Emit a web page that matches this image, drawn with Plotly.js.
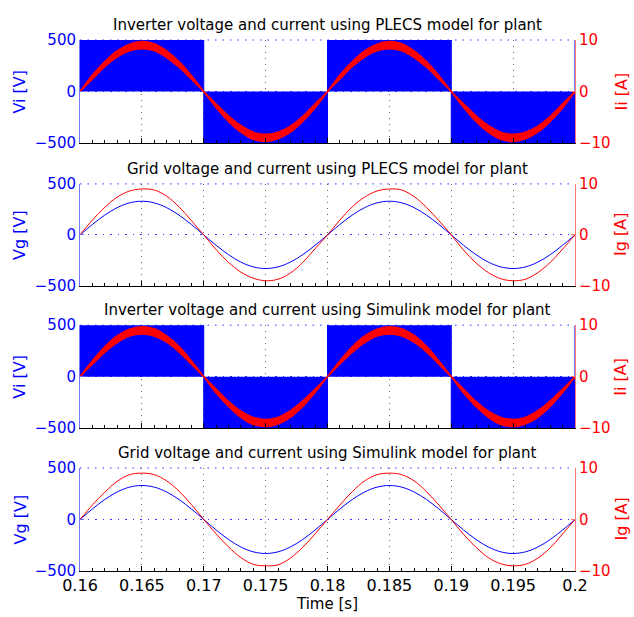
<!DOCTYPE html>
<html>
<head>
<meta charset="utf-8">
<script src="https://cdn.plot.ly/plotly-3.0.1.min.js"></script>
<style>html,body{margin:0;padding:0;background:#fff;}#chart{width:634px;height:617px;}</style>
</head>
<body>
<div id="chart"></div>
<script>
// ---- data ----
const time = [0.160,0.161,0.162,0.163,0.164,0.165,0.166,0.167,0.168,0.169,
              0.170,0.171,0.172,0.173,0.174,0.175,0.176,0.177,0.178,0.179,
              0.180,0.181,0.182,0.183,0.184,0.185,0.186,0.187,0.188,0.189,
              0.190,0.191,0.192,0.193,0.194,0.195,0.196,0.197,0.198,0.199,0.200];

// inverter voltage envelope (PWM switching appears as solid blocks)
const viTime = [0.16,0.17,0.17,0.18,0.18,0.19,0.19,0.20,0.20];
const viPlecs = [500,500,-500,-500,500,500,-500,-500,500];
const viSimulink = [500,500,-500,-500,500,500,-500,-500,500];

// inverter current ripple band (outer / inner edge)
const iiPlecsOuter = [0,3.2,5.8,7.9,9.2,9.7,9.3,7.9,5.8,3.1,0,-3.1,-5.8,-7.9,-9.3,-9.7,-9.2,-7.9,-5.8,-3.2,
                      0,3.2,5.8,7.9,9.2,9.7,9.3,7.9,5.8,3.1,0,-3.1,-5.8,-7.9,-9.3,-9.7,-9.2,-7.9,-5.8,-3.2,0];
const iiPlecsInner = [0,2.4,4.8,6.7,7.9,8.3,7.9,6.6,4.7,2.4,0,-2.4,-4.7,-6.6,-7.9,-8.3,-7.9,-6.7,-4.8,-2.4,
                      0,2.4,4.8,6.7,7.9,8.3,7.9,6.6,4.7,2.4,0,-2.4,-4.7,-6.6,-7.9,-8.3,-7.9,-6.7,-4.8,-2.4,0];
const iiSimOuter = [0,3.1,5.8,7.9,9.2,9.7,9.3,7.9,5.9,3.1,0,-3.2,-5.8,-7.9,-9.3,-9.7,-9.2,-7.9,-5.8,-3.1,
                    0,3.1,5.8,7.9,9.2,9.7,9.3,8.0,5.9,3.1,0,-3.2,-5.8,-7.9,-9.3,-9.7,-9.2,-7.9,-5.8,-3.1,0];
const iiSimInner = [0,2.4,4.7,6.6,7.9,8.3,7.9,6.7,4.8,2.4,0,-2.4,-4.8,-6.7,-7.9,-8.3,-7.9,-6.6,-4.7,-2.4,
                    0,2.4,4.7,6.6,7.9,8.3,7.9,6.7,4.8,2.4,0,-2.4,-4.8,-6.7,-7.9,-8.3,-7.9,-6.6,-4.7,-2.4,0];

// grid voltage and current
const vgPlecs = [0,102,194,267,314,330,314,267,194,102,0,-102,-194,-267,-314,-330,-314,-267,-194,-102,
                 0,102,194,267,314,330,314,267,194,102,0,-102,-194,-267,-314,-330,-314,-267,-194,-102,0];
const vgSimulink = [0,102,194,267,314,330,314,267,194,102,0,-102,-194,-267,-314,-330,-314,-267,-194,-102,
                    0,102,194,267,314,330,314,267,194,102,0,-102,-194,-267,-314,-330,-314,-267,-194,-102,0];
const igPlecs = [0,2.9,5.4,7.4,8.6,9.0,8.8,7.6,5.5,2.8,0,-2.9,-5.4,-7.3,-8.5,-9.0,-8.7,-7.5,-5.4,-2.7,
                 0,2.9,5.5,7.4,8.6,9.0,8.8,7.5,5.4,2.8,0,-3.0,-5.5,-7.4,-8.6,-9.0,-8.7,-7.4,-5.4,-2.8,0];
const igSimulink = [0,2.8,5.3,7.4,8.7,9.0,8.7,7.5,5.5,2.9,0,-2.8,-5.3,-7.4,-8.7,-9.0,-8.8,-7.5,-5.4,-2.8,
                    0,2.8,5.4,7.5,8.7,9.0,8.7,7.5,5.4,2.8,0,-2.9,-5.4,-7.4,-8.6,-9.0,-8.7,-7.5,-5.5,-2.8,0];

// ticks and labels
const timeTicks = [0.16,0.165,0.17,0.175,0.18,0.185,0.19,0.195,0.2];
const timeTickText = ['0.16','0.165','0.17','0.175','0.18','0.185','0.19','0.195','0.2'];
const voltTicks = [-500,0,500];
const voltTickText = ['\u2212500','0','500'];
const currTicks = [-10,0,10];
const currTickText = ['\u221210','0','10'];
const panelTitles = ['Inverter voltage and current using PLECS model for plant',
                     'Grid voltage and current using PLECS model for plant',
                     'Inverter voltage and current using Simulink model for plant',
                     'Grid voltage and current using Simulink model for plant'];
const leftTitles = ['Vi [V]','Vg [V]','Vi [V]','Vg [V]'];
const rightTitles = ['Ii [A]','Ig [A]','Ii [A]','Ig [A]'];
const xTitle = 'Time [s]';

// ---- figure ----
const FONT = 'DejaVu Sans, Verdana, sans-serif';
const BLUE = '#0000ff', RED = '#ff0000';
const domains = [[0.806,1],[0.537,0.729],[0.269,0.463],[0,0.194]];

function ax(n){ return n===1 ? '' : String(n); }

const traces = [];
// panel 1 (inverter, PLECS)
traces.push({x: viTime, y: viPlecs, xaxis:'x', yaxis:'y', type:'scatter', mode:'lines',
  fill:'tozeroy', fillcolor: BLUE, line:{color: BLUE, width:1}, hoverinfo:'skip'});
traces.push({x: time, y: iiPlecsOuter, xaxis:'x', yaxis:'y2', type:'scatter', mode:'lines',
  line:{color: RED, width:1.5, shape:'spline'}, hoverinfo:'skip'});
traces.push({x: time, y: iiPlecsInner, xaxis:'x', yaxis:'y2', type:'scatter', mode:'lines',
  fill:'tonexty', fillcolor: RED, line:{color: RED, width:1.5, shape:'spline'}, hoverinfo:'skip'});
// panel 2 (grid, PLECS)
traces.push({x: time, y: vgPlecs, xaxis:'x2', yaxis:'y3', type:'scatter', mode:'lines',
  line:{color: BLUE, width:1, shape:'spline'}});
traces.push({x: time, y: igPlecs, xaxis:'x2', yaxis:'y4', type:'scatter', mode:'lines',
  line:{color: RED, width:1, shape:'spline'}});
// panel 3 (inverter, Simulink)
traces.push({x: viTime, y: viSimulink, xaxis:'x3', yaxis:'y5', type:'scatter', mode:'lines',
  fill:'tozeroy', fillcolor: BLUE, line:{color: BLUE, width:1}, hoverinfo:'skip'});
traces.push({x: time, y: iiSimOuter, xaxis:'x3', yaxis:'y6', type:'scatter', mode:'lines',
  line:{color: RED, width:1.5, shape:'spline'}, hoverinfo:'skip'});
traces.push({x: time, y: iiSimInner, xaxis:'x3', yaxis:'y6', type:'scatter', mode:'lines',
  fill:'tonexty', fillcolor: RED, line:{color: RED, width:1.5, shape:'spline'}, hoverinfo:'skip'});
// panel 4 (grid, Simulink)
traces.push({x: time, y: vgSimulink, xaxis:'x4', yaxis:'y7', type:'scatter', mode:'lines',
  line:{color: BLUE, width:1, shape:'spline'}});
traces.push({x: time, y: igSimulink, xaxis:'x4', yaxis:'y8', type:'scatter', mode:'lines',
  line:{color: RED, width:1, shape:'spline'}});

const layout = {
  width: 634, height: 617,
  margin: {l: 80, r: 59, t: 40, b: 46, pad: 0},
  paper_bgcolor: '#fff', plot_bgcolor: '#fff',
  showlegend: false,
  font: {family: FONT, size: 15, color: '#000'},
  annotations: [],
  shapes: []
};

for (let i = 1; i <= 4; i++) {
  const d = domains[i-1];
  const lastPanel = (i === 4);
  const mid = (d[0] + d[1]) / 2;
  layout['xaxis' + ax(i)] = {
    anchor: 'y' + ax(2*i-1), domain: [0,1], range: [0.16, 0.2],
    tickmode: 'array', tickvals: timeTicks, ticktext: timeTickText,
    showticklabels: lastPanel,
    ticks: 'inside', ticklen: 5, tickcolor: '#000', tickwidth: 1,
    showline: true, linecolor: '#000', linewidth: 1,
    showgrid: true, gridcolor: '#666', griddash: '1px,5px', gridwidth: 1,
    zeroline: false,
    minor: {dtick: 0.001, tick0: 0.16, ticks: 'inside', ticklen: 3, tickcolor: '#000', showgrid: false},
    tickfont: {family: FONT, size: 16, color: '#000'},
    title: lastPanel ? {text: xTitle, font: {family: FONT, size: 15, color: '#000'}, standoff: 2} : {text: ''}
  };
  layout['yaxis' + ax(2*i-1)] = {
    anchor: 'x' + ax(i), domain: d, range: [-500, 500], side: 'left',
    tickmode: 'array', tickvals: voltTicks, ticktext: voltTickText,
    ticks: 'inside', ticklen: 4, tickcolor: '#6666ff',
    showline: true, linecolor: '#7777ff', linewidth: 1,
    showgrid: true, gridcolor: '#3333ff', griddash: '1.5px,6px', gridwidth: 1,
    zeroline: false,
    tickfont: {family: FONT, size: 15, color: BLUE}
  };
  layout['yaxis' + ax(2*i)] = {
    anchor: 'x' + ax(i), overlaying: 'y' + ax(2*i-1), domain: d, range: [-10, 10], side: 'right',
    tickmode: 'array', tickvals: currTicks, ticktext: currTickText,
    ticks: 'inside', ticklen: 4, tickcolor: '#ff7777',
    showline: true, linecolor: '#ff7777', linewidth: 1,
    showgrid: false, zeroline: false,
    tickfont: {family: FONT, size: 15, color: RED}
  };
  // dotted blue top edge (grid line at 500)
  layout.shapes.push({
    type: 'line', xref: 'x' + ax(i) + ' domain', yref: 'y' + ax(2*i-1) + ' domain',
    x0: 0, x1: 1, y0: 1, y1: 1, layer: 'below',
    line: {color: '#3333ff', width: 1, dash: '1.5px,6px'}
  });
  // panel title
  layout.annotations.push({
    text: panelTitles[i-1], xref: 'paper', yref: 'paper', x: 0.5, y: d[1],
    xanchor: 'center', yanchor: 'bottom', yshift: 4, showarrow: false,
    font: {family: FONT, size: 15, color: '#000'}
  });
  // left / right axis titles
  layout.annotations.push({
    text: leftTitles[i-1], xref: 'paper', yref: 'paper', x: -0.1212, y: mid,
    xanchor: 'center', yanchor: 'middle', textangle: -90, showarrow: false,
    font: {family: FONT, size: 16, color: BLUE}
  });
  layout.annotations.push({
    text: rightTitles[i-1], xref: 'paper', yref: 'paper', x: 1.093, y: mid,
    xanchor: 'center', yanchor: 'middle', textangle: -90, showarrow: false,
    font: {family: FONT, size: 16, color: RED}
  });
}

Plotly.newPlot('chart', traces, layout, {staticPlot: true, displayModeBar: false});
</script>
</body>
</html>
